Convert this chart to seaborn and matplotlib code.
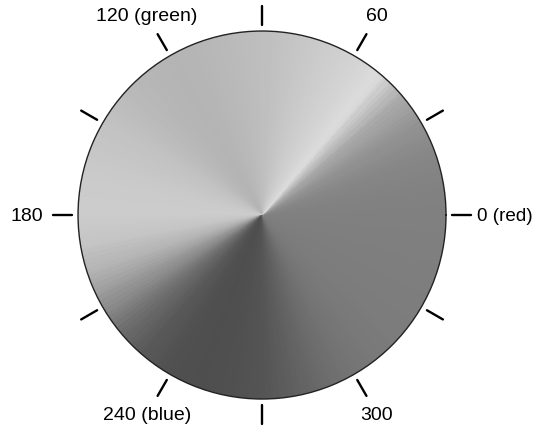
import numpy as np
import matplotlib
matplotlib.use("Agg")
import matplotlib.pyplot as plt
import seaborn as sns

# gray level of the wheel, read every 10 degrees of hue (0 = red, counterclockwise)
hue_deg = list(range(0, 361, 10))
gray = [128, 130, 135, 146, 170, 220, 210, 203, 196, 190,
        186, 182, 180, 182, 187, 194, 199, 203, 204, 196,
        176, 143, 108, 88, 80, 78, 80, 84, 94, 106,
        116, 121, 124, 125, 126, 127, 128]

tick_deg = list(range(0, 360, 30))
label_deg = [0, 60, 120, 180, 240, 300]
label_txt = ["0 (red)", "60", "120 (green)", "180", "240 (blue)", "300"]

sns.set_style("white")
plt.rcParams["font.family"] = ["Liberation Sans", "DejaVu Sans"]

wheel_cmap = sns.blend_palette([(g / 255, g / 255, g / 255) for g in gray], n_colors=360, as_cmap=True)

fig = plt.figure(figsize=(5.37, 4.31), dpi=100)
ax = fig.add_axes([0.1453, 0.0719, 0.6853, 0.8538], projection="polar")

theta = np.radians(np.linspace(0, 360, 721))
r = np.array([0.0, 1.0])
centers = np.linspace(0.25, 359.75, 720)
ax.pcolormesh(theta, r, centers[np.newaxis, :], cmap=wheel_cmap,
              vmin=0, vmax=360, shading="flat", antialiased=False, linewidth=0)

ax.set_ylim(0, 1)
ax.set_xticks([])
ax.set_yticks([])
ax.grid(False)
ax.spines["polar"].set_color("#222222")
ax.spines["polar"].set_linewidth(1.0)

for d in tick_deg:
    t = np.radians(d)
    ax.plot([t, t], [1.035, 1.135], color="black", lw=1.7, clip_on=False)

for d, txt in zip(label_deg, label_txt):
    t = np.radians(d)
    if d == 0:
        ax.text(t, 1.17, txt, ha="left", va="center", fontsize=13.6, color="black", clip_on=False)
    elif d == 180:
        ax.text(t, 1.19, txt, ha="right", va="center", fontsize=14, color="black", clip_on=False)
    else:
        ax.text(t, 1.25, txt, ha="center", va="center", fontsize=14, color="black", clip_on=False)

fig.savefig("out.png", dpi=100)
